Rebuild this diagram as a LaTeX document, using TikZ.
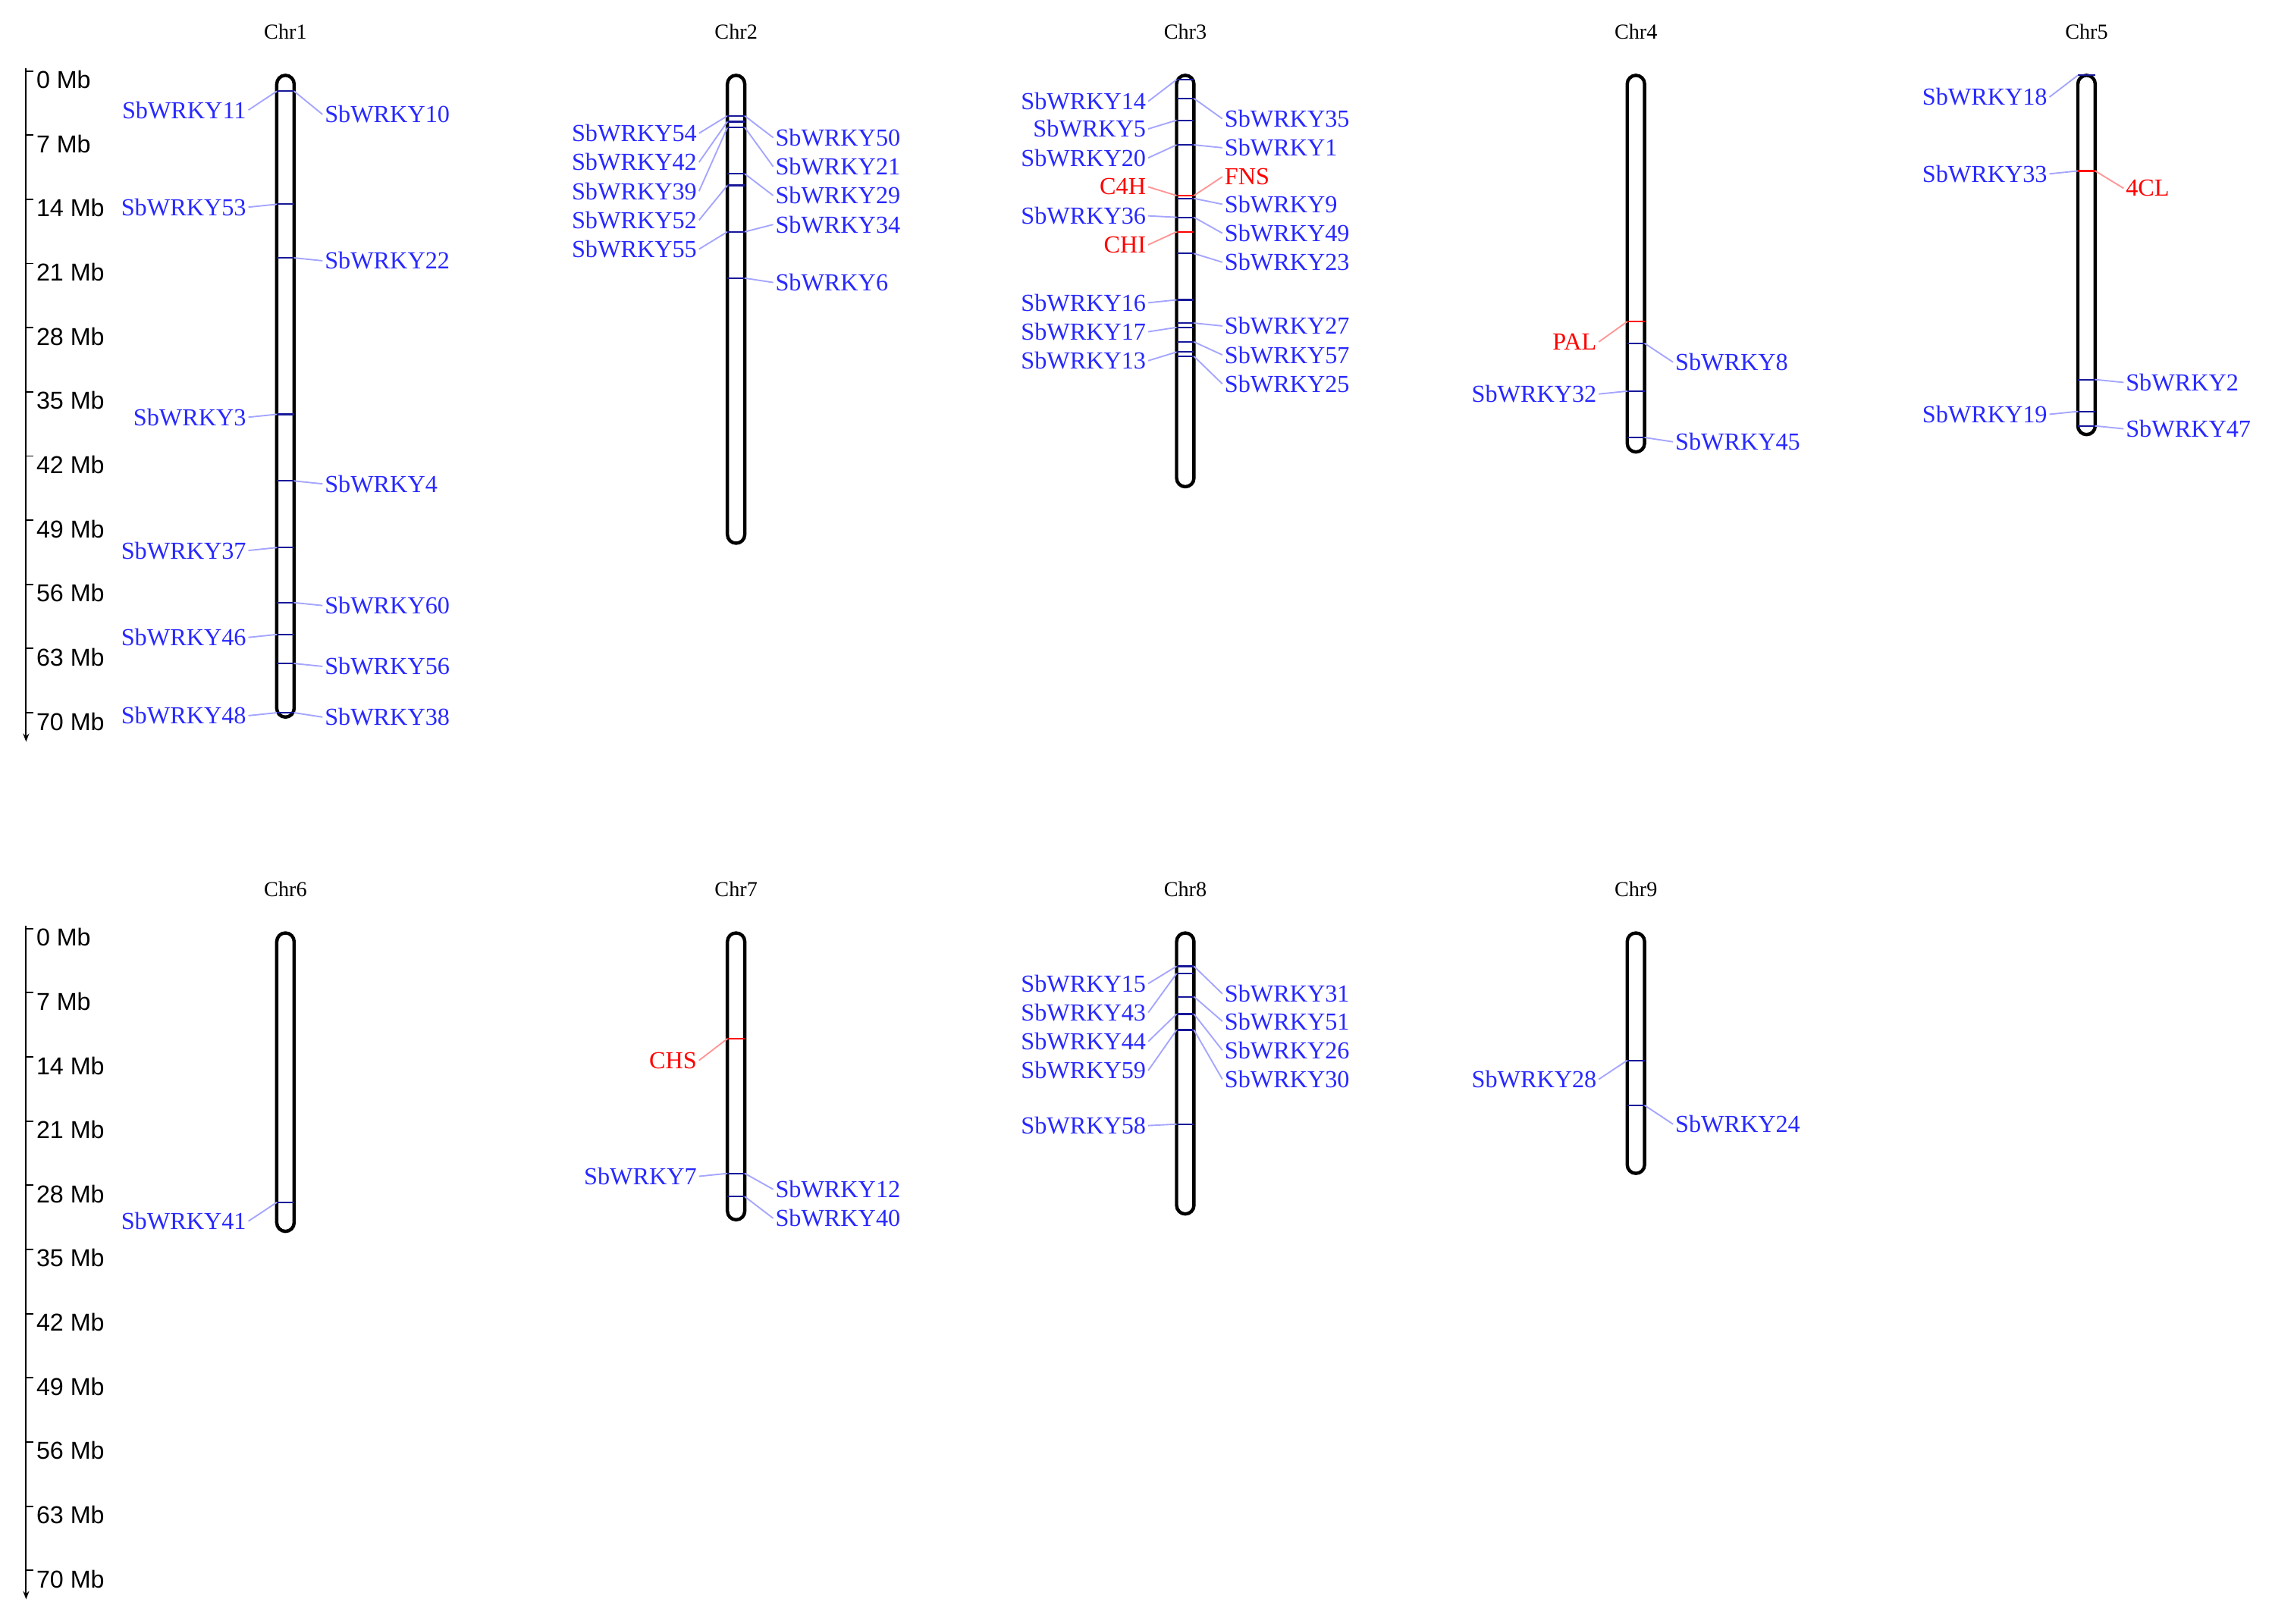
\documentclass[tikz,border=0pt]{standalone}
\usepackage{fontspec}
\setmainfont{Liberation Serif}
\newfontfamily\axf{Liberation Sans}
\usetikzlibrary{arrows.meta}
\definecolor{gb}{RGB}{40,40,255}
\definecolor{gbl}{RGB}{165,165,255}
\definecolor{gr}{RGB}{255,0,0}
\definecolor{grl}{RGB}{255,150,150}
\tikzset{
 lab/.style={inner sep=0pt,font=\fontsize{24}{24}\selectfont},
 bluet/.style={text=gb}, redt/.style={text=gr},
 bluetcon/.style={draw=gbl,line width=1.4pt}, redtcon/.style={draw=grl,line width=1.4pt},
 bluetmark/.style={draw=gb!60!black,line width=1.6pt}, redtmark/.style={draw=gr,line width=1.6pt},
 chrom/.style={draw=black,line width=3.3pt,rounded corners=0.3cm},
 ctitle/.style={inner sep=0pt,font=\fontsize{21}{21}\selectfont},
 axl/.style={inner sep=0pt,anchor=west,font=\axf\fontsize{24}{24}\selectfont},
}
\newcommand\gL[5]{%
 \draw[#5mark] (#1-6,#2) -- (#1+6,#2);
 \node[lab,#5,anchor=east] (n#4) at (#1-27,#3) {#4};
 \draw[#5con] (#1-6,#2) -- ([xshift=2pt]n#4.east);}
\newcommand\gR[5]{%
 \draw[#5mark] (#1-6,#2) -- (#1+6,#2);
 \node[lab,#5,anchor=west] (n#4) at (#1+27,#3) {#4};
 \draw[#5con] (#1+6,#2) -- ([xshift=-2pt]n#4.west);}
\newcommand\chr[4]{%
 \draw[chrom] (#1-6,#2) rectangle (#1+6,#3);
 \node[ctitle] (t#4) at (#1,#2-30) {#4};}
\newcommand\axis[2]{%
 \coordinate (a#2top) at (18,#1-8);
 \coordinate (a#2bot) at (18,#1+457);
 \draw[line width=1.6pt,-{Stealth[length=8pt]}] (a#2top) -- (a#2bot);
 \foreach \i in {0,...,10}{
   \pgfmathtruncatemacro\mb{7*\i}
   \draw[line width=1.4pt] (18,#1+\i*44.3-6) -- (23,#1+\i*44.3-6);
   \node[axl] (ax#2\i) at (25,#1+\i*44.3) {\mb{} Mb};}}
\begin{document}
\begin{tikzpicture}[x=0.05cm,y=-0.05cm]
\useasboundingbox (0,0) rectangle (1568,1121);
\axis{55}{A}
\axis{647}{B}
\chr{197}{52}{495}{Chr1}
\chr{508}{52}{375}{Chr2}
\chr{818}{52}{336}{Chr3}
\chr{1129}{52}{312}{Chr4}
\chr{1440}{52}{300}{Chr5}
\chr{197}{644}{850}{Chr6}
\chr{508}{644}{842}{Chr7}
\chr{818}{644}{838}{Chr8}
\chr{1129}{644}{810}{Chr9}
% Chr1
\gL{197}{63}{76}{SbWRKY11}{bluet}
\gL{197}{141}{143}{SbWRKY53}{bluet}
\gL{197}{286}{288}{SbWRKY3}{bluet}
\gL{197}{378}{380}{SbWRKY37}{bluet}
\gL{197}{438}{440}{SbWRKY46}{bluet}
\gL{197}{492}{494}{SbWRKY48}{bluet}
\gR{197}{63}{79}{SbWRKY10}{bluet}
\gR{197}{178}{180}{SbWRKY22}{bluet}
\gR{197}{332}{334}{SbWRKY4}{bluet}
\gR{197}{416}{418}{SbWRKY60}{bluet}
\gR{197}{458}{460}{SbWRKY56}{bluet}
\gR{197}{492}{495}{SbWRKY38}{bluet}
% Chr2
\gL{508}{80}{92}{SbWRKY54}{bluet}
\gL{508}{84}{112}{SbWRKY42}{bluet}
\gL{508}{88}{132}{SbWRKY39}{bluet}
\gL{508}{128}{152}{SbWRKY52}{bluet}
\gL{508}{160}{172}{SbWRKY55}{bluet}
\gR{508}{80}{95}{SbWRKY50}{bluet}
\gR{508}{88}{115}{SbWRKY21}{bluet}
\gR{508}{120}{135}{SbWRKY29}{bluet}
\gR{508}{160}{155}{SbWRKY34}{bluet}
\gR{508}{192}{195}{SbWRKY6}{bluet}
% Chr3
\gL{818}{55}{70}{SbWRKY14}{bluet}
\gL{818}{83}{89}{SbWRKY5}{bluet}
\gL{818}{100}{109}{SbWRKY20}{bluet}
\gL{818}{135}{129}{C4H}{redt}
\gL{818}{150}{149}{SbWRKY36}{bluet}
\gL{818}{160}{169}{CHI}{redt}
\gL{818}{207}{209}{SbWRKY16}{bluet}
\gL{818}{226}{229}{SbWRKY17}{bluet}
\gL{818}{243}{249}{SbWRKY13}{bluet}
\gR{818}{68}{82}{SbWRKY35}{bluet}
\gR{818}{100}{102}{SbWRKY1}{bluet}
\gR{818}{135}{122}{FNS}{redt}
\gR{818}{137}{141}{SbWRKY9}{bluet}
\gR{818}{150}{161}{SbWRKY49}{bluet}
\gR{818}{175}{181}{SbWRKY23}{bluet}
\gR{818}{223}{225}{SbWRKY27}{bluet}
\gR{818}{236}{245}{SbWRKY57}{bluet}
\gR{818}{246}{265}{SbWRKY25}{bluet}
% Chr4
\gL{1129}{222}{236}{PAL}{redt}
\gL{1129}{270}{272}{SbWRKY32}{bluet}
\gR{1129}{237}{250}{SbWRKY8}{bluet}
\gR{1129}{302}{305}{SbWRKY45}{bluet}
% Chr5
\gL{1440}{52}{67}{SbWRKY18}{bluet}
\gL{1440}{118}{120}{SbWRKY33}{bluet}
\gR{1440}{118}{130}{4CL}{redt}
\gR{1440}{262}{264}{SbWRKY2}{bluet}
\gL{1440}{284}{286}{SbWRKY19}{bluet}
\gR{1440}{294}{296}{SbWRKY47}{bluet}
% Chr6
\gL{197}{830}{843}{SbWRKY41}{bluet}
% Chr7
\gL{508}{717}{732}{CHS}{redt}
\gL{508}{810}{812}{SbWRKY7}{bluet}
\gR{508}{810}{821}{SbWRKY12}{bluet}
\gR{508}{826}{841}{SbWRKY40}{bluet}
% Chr8
\gL{818}{667}{679}{SbWRKY15}{bluet}
\gL{818}{672}{699}{SbWRKY43}{bluet}
\gL{818}{700}{719}{SbWRKY44}{bluet}
\gL{818}{711}{739}{SbWRKY59}{bluet}
\gL{818}{776}{777}{SbWRKY58}{bluet}
\gR{818}{667}{686}{SbWRKY31}{bluet}
\gR{818}{688}{705}{SbWRKY51}{bluet}
\gR{818}{700}{725}{SbWRKY26}{bluet}
\gR{818}{711}{745}{SbWRKY30}{bluet}
% Chr9
\gL{1129}{732}{745}{SbWRKY28}{bluet}
\gR{1129}{763}{776}{SbWRKY24}{bluet}
\end{tikzpicture}
\end{document}
